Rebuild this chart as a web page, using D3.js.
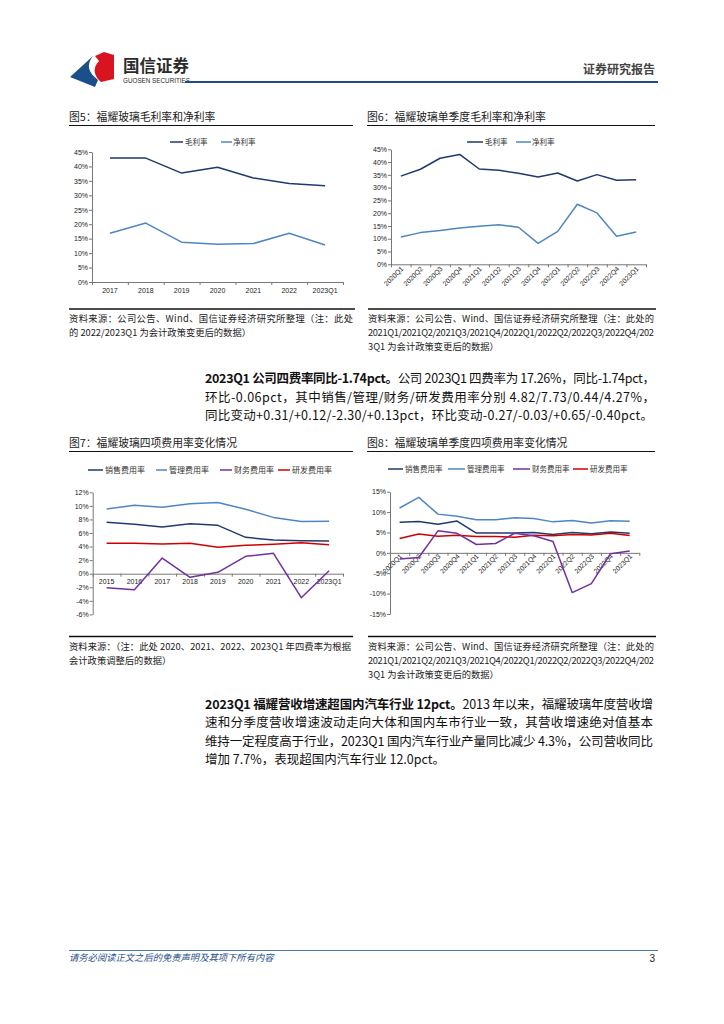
<!DOCTYPE html>
<html><head><meta charset="utf-8">
<script src="https://cdn.jsdelivr.net/npm/d3@7"></script>
<style>
html,body{margin:0;padding:0;background:#fff;}
svg{display:block;}
</style></head>
<body>
<svg id="page" width="724" height="1024"></svg>
<script>
// ---------------- DATA ----------------
const years5 = ["2017","2018","2019","2020","2021","2022","2023Q1"];
const gross5 = [42.9, 42.9, 37.7, 39.7, 36.0, 34.1, 33.3];
const net5   = [16.9, 20.4, 13.8, 13.1, 13.3, 16.9, 12.8];

const quarters = ["2020Q1","2020Q2","2020Q3","2020Q4","2021Q1","2021Q2","2021Q3","2021Q4","2022Q1","2022Q2","2022Q3","2022Q4","2023Q1"];
const gross6 = [34.5, 37.2, 41.5, 43.0, 37.3, 36.8, 35.6, 34.2, 35.7, 32.6, 35.1, 32.9, 33.1];
const net6   = [10.7, 12.4, 13.2, 14.2, 14.9, 15.5, 14.5, 8.2, 12.9, 23.5, 20.1, 11.0, 12.6];

const years7 = ["2015","2016","2017","2018","2019","2020","2021","2022","2023Q1"];
const sales7 = [7.57, 7.28, 6.90, 7.37, 7.13, 5.36, 4.97, 4.87, 4.82];
const admin7 = [9.53, 10.1, 9.80, 10.3, 10.5, 9.50, 8.30, 7.70, 7.73];
const fin7   = [-2.06, -2.36, 2.31, -0.53, 0.20, 2.56, 3.00, -3.54, 0.44];
const rd7    = [4.48, 4.48, 4.38, 4.48, 3.90, 4.18, 4.33, 4.57, 4.27];

const sales8 = [7.5, 7.7, 7.0, 7.8, 4.85, 4.85, 4.85, 5.0, 4.5, 5.0, 4.7, 5.1, 4.82];
const admin8 = [11.0, 13.6, 9.5, 9.0, 8.1, 8.1, 8.6, 8.45, 7.6, 7.95, 7.3, 7.9, 7.73];
const fin8   = [-1.5, -1.15, 5.4, 4.8, 2.05, 2.3, 4.8, 4.2, 2.8, -9.75, -7.55, -0.2, 0.44];
const rd8    = [3.5, 4.6, 4.1, 4.3, 4.0, 4.0, 3.85, 4.3, 4.2, 4.5, 4.4, 4.8, 4.27];

const ticks5 = [0,5,10,15,20,25,30,35,40,45];
const ticks7 = [-6,-4,-2,0,2,4,6,8,10,12];
const ticks8 = [-15,-10,-5,0,5,10,15];

const legend56 = ["毛利率","净利率"];
const legend78 = ["销售费用率","管理费用率","财务费用率","研发费用率"];

// ---------------- STYLE ----------------
const C_DARK = "#1f3a6e", C_LIGHT = "#4f86c2", C_PURPLE = "#7030a0", C_RED = "#d00000";
const CJK = "'Noto Sans CJK SC','Noto Sans',sans-serif";
const LAT = "'Liberation Sans',Arial,sans-serif";

const svg = d3.select("#page");
svg.append("rect").attr("width",724).attr("height",1024).attr("fill","#fff");

// ---------------- HEADER ----------------
const hdr = svg.append("g");
hdr.append("path").attr("d","M70,77 L93,56 C86,65 88,72 98,80 L95,87 Z").attr("fill","#1b4f8a");
hdr.append("path").attr("d","M95,56 L104,52 L114,55 L114,79 L101,82 C94,76 92,68 99,61 Z").attr("fill","#d7141f");
hdr.append("text").attr("x",123).attr("y",72).attr("font-family",CJK).attr("font-size",16.5).attr("font-weight","bold").attr("fill","#2b2b2b").text("国信证券");
hdr.append("text").attr("x",123).attr("y",83).attr("font-family",LAT).attr("font-size",6.8).attr("fill","#2b2b2b").attr("textLength",67).attr("lengthAdjust","spacingAndGlyphs").text("GUOSEN SECURITIES");
hdr.append("text").attr("x",655).attr("y",74).attr("text-anchor","end").attr("font-family",CJK).attr("font-size",12).attr("font-weight","bold").attr("fill","#444").text("证券研究报告");
hdr.append("line").attr("x1",185).attr("x2",658).attr("y1",82).attr("y2",82).attr("stroke","#1f4e87").attr("stroke-width",2);

// ---------------- helpers ----------------
function title(x, y, w, txt){
  svg.append("text").attr("x",x).attr("y",y).attr("font-family",CJK).attr("font-size",10.8).attr("fill","#222").text(txt);
  svg.append("line").attr("x1",x).attr("x2",x+w).attr("y1",y+4.5).attr("y2",y+4.5).attr("stroke","#111").attr("stroke-width",1.2);
}
function source(x, y, w, lines, fullCount){
  svg.append("line").attr("x1",x).attr("x2",x+w).attr("y1",y).attr("y2",y).attr("stroke","#111").attr("stroke-width",1.5);
  lines.forEach((t,i)=>{
    const tx = svg.append("text").attr("x",x).attr("y",y+13+i*14.2).attr("font-family",CJK).attr("font-size",9.3).attr("fill","#222").text(t);
    if(i < fullCount) tx.attr("textLength",w-2).attr("lengthAdjust","spacing");
  });
}
function legend(items, colors, lineXs, textXs, y, fs){
  items.forEach((t,i)=>{
    svg.append("line").attr("x1",lineXs[i][0]).attr("x2",lineXs[i][1]).attr("y1",y).attr("y2",y).attr("stroke",colors[i]).attr("stroke-width",1.5);
    svg.append("text").attr("x",textXs[i]).attr("y",y+2.8).attr("font-family",CJK).attr("font-size",fs).attr("fill","#333").text(t);
  });
}
function chart(o){
  const g = svg.append("g");
  const x = d3.scaleBand().domain(o.cats).range([o.x0,o.x1]).padding(0);
  const xi = d3.scaleLinear().domain([0,o.cats.length]).range([o.x0,o.x1]);
  const y = d3.scaleLinear().domain(o.ydom).range([o.yb,o.yt]);
  // y axis
  const ya = g.append("g").attr("transform",`translate(${o.x0},0)`)
    .call(d3.axisLeft(y).tickValues(o.yticks).tickSize(3).tickSizeOuter(0).tickFormat(d=>d+"%"));
  ya.select(".domain").attr("stroke","#777");
  ya.selectAll(".tick line").attr("stroke","#777");
  ya.selectAll(".tick text").attr("font-family",LAT).attr("font-size",7).attr("fill","#222").attr("x",-4);
  // x axis line with boundary ticks
  const axY = y(o.axisAt);
  const xa = g.append("g").attr("transform",`translate(0,${axY})`)
    .call(d3.axisBottom(xi).tickValues(d3.range(o.cats.length+1)).tickSize(3).tickSizeOuter(0).tickFormat(""));
  xa.select(".domain").attr("stroke","#777");
  xa.selectAll(".tick line").attr("stroke","#777");
  // labels
  const xl = g.append("g").attr("transform",`translate(0,${axY})`)
    .call(d3.axisBottom(x).tickSize(0).tickSizeOuter(0));
  xl.select(".domain").remove();
  if(o.rotate){
    xl.selectAll(".tick text").attr("font-family",LAT).attr("font-size",6.8).attr("fill","#222")
      .attr("text-anchor","end").attr("dy","0").attr("y",0)
      .attr("transform",`translate(${o.rdx||2},${o.rdy||5}) rotate(-45)`);
  } else {
    xl.selectAll(".tick text").attr("font-family",LAT).attr("font-size",7).attr("fill","#222").attr("y",o.ly||7).attr("dy","0.71em");
  }
  // lines
  const line = d3.line().x((d,i)=>x(o.cats[i])+x.bandwidth()/2).y(d=>y(d));
  o.series.forEach(s=>{
    g.append("path").datum(s.v).attr("d",line).attr("fill","none").attr("stroke",s.c).attr("stroke-width",1.5).attr("stroke-linejoin","round");
  });
}

// ---------------- Figure 5 ----------------
title(69,121,284,"图5：福耀玻璃毛利率和净利率");
legend(legend56,[C_DARK,C_LIGHT],[[170,183],[221,232]],[185,233],142,7.5);
chart({cats:years5,x0:92,x1:343,ydom:[0,45],yb:282,yt:152,yticks:ticks5,axisAt:0,ly:6,
  series:[{v:gross5,c:C_DARK},{v:net5,c:C_LIGHT}]});
source(69,309,286,["资料来源：公司公告、Wind、国信证券经济研究所整理（注：此处","的 2022/2023Q1 为会计政策变更后的数据）"],1);

// ---------------- Figure 6 ----------------
title(367,121,288,"图6：福耀玻璃单季度毛利率和净利率");
legend(legend56,[C_DARK,C_LIGHT],[[467,483],[516,531]],[485,532],142,7.5);
chart({cats:quarters,x0:391,x1:646,ydom:[0,45],yb:264.3,yt:149.3,yticks:ticks5,axisAt:0,rotate:true,rdx:3,rdy:5,
  series:[{v:gross6,c:C_DARK},{v:net6,c:C_LIGHT}]});
source(368,309,288,["资料来源：公司公告、Wind、国信证券经济研究所整理（注：此处的","2021Q1/2021Q2/2021Q3/2021Q4/2022Q1/2022Q2/2022Q3/2022Q4/202","3Q1 为会计政策变更后的数据）"],2);

// ---------------- Paragraph 1 ----------------
function para(lines, x, ys, widths){
  lines.forEach((ln,i)=>{
    const t = svg.append("text").attr("x",x).attr("y",ys[i]).attr("font-family",CJK).attr("font-size",12.5).attr("fill","#111");
    ln.forEach(seg=>{
      t.append("tspan").attr("font-weight",seg.b?"bold":"normal").text(seg.t);
    });
    if(widths[i]) t.attr("textLength",widths[i]).attr("lengthAdjust","spacing");
  });
}
para([
  [{t:"2023Q1 公司四费率同比-1.74pct。",b:true},{t:"公司 2023Q1 四费率为 17.26%，同比-1.74pct，"}],
  [{t:"环比-0.06pct，其中销售/管理/财务/研发费用率分别 4.82/7.73/0.44/4.27%，"}],
  [{t:"同比变动+0.31/+0.12/-2.30/+0.13pct，环比变动-0.27/-0.03/+0.65/-0.40pct。"}]
],205,[383,402,420],[450,450,448]);

// ---------------- Figure 7 ----------------
title(69,447,284,"图7：福耀玻璃四项费用率变化情况");
legend(legend78,[C_DARK,C_LIGHT,C_PURPLE,C_RED],[[88,103],[156,167],[220,232],[278,290]],[105,169,234,292],470,8);
chart({cats:years7,x0:92.7,x1:343,ydom:[-6,12],yb:614.4,yt:492.3,yticks:ticks7,axisAt:0,ly:5,
  series:[{v:admin7,c:C_LIGHT},{v:sales7,c:C_DARK},{v:rd7,c:C_RED},{v:fin7,c:C_PURPLE}]});
source(69,636.5,284,["资料来源：（注：此处 2020、2021、2022、2023Q1 年四费率为根据","会计政策调整后的数据）"],1);

// ---------------- Figure 8 ----------------
title(367,447,288,"图8：福耀玻璃单季度四项费用率变化情况");
legend(legend78,[C_DARK,C_LIGHT,C_PURPLE,C_RED],[[388,403],[448,465],[513,530],[573,588]],[405,467,532,590],469,7.5);
chart({cats:quarters,x0:390,x1:639.3,ydom:[-15,15],yb:614,yt:491.7,yticks:ticks8,axisAt:0,rotate:true,rdx:3,rdy:4,
  series:[{v:admin8,c:C_LIGHT},{v:sales8,c:C_DARK},{v:rd8,c:C_RED},{v:fin8,c:C_PURPLE}]});
source(368,636.5,288,["资料来源：公司公告、Wind、国信证券经济研究所整理（注：此处的","2021Q1/2021Q2/2021Q3/2021Q4/2022Q1/2022Q2/2022Q3/2022Q4/202","3Q1 为会计政策变更后的数据）"],2);

// ---------------- Paragraph 2 ----------------
para([
  [{t:"2023Q1 福耀营收增速超国内汽车行业 12pct。",b:true},{t:"2013 年以来，福耀玻璃年度营收增"}],
  [{t:"速和分季度营收增速波动走向大体和国内车市行业一致，其营收增速绝对值基本"}],
  [{t:"维持一定程度高于行业，2023Q1 国内汽车行业产量同比减少 4.3%，公司营收同比"}],
  [{t:"增加 7.7%，表现超国内汽车行业 12.0pct。"}]
],205,[708.5,727,745.5,764],[448,448,448,0]);

// ---------------- Footer ----------------
svg.append("line").attr("x1",69).attr("x2",658).attr("y1",950.5).attr("y2",950.5).attr("stroke","#4a78a8").attr("stroke-width",1);
svg.append("text").attr("x",69).attr("y",961).attr("font-family",CJK).attr("font-size",9.3).attr("font-style","italic").attr("fill","#1f4e87").text("请务必阅读正文之后的免责声明及其项下所有内容");
svg.append("text").attr("x",655).attr("y",962).attr("text-anchor","end").attr("font-family",LAT).attr("font-size",10).attr("fill","#222").text("3");
</script>
</body></html>
